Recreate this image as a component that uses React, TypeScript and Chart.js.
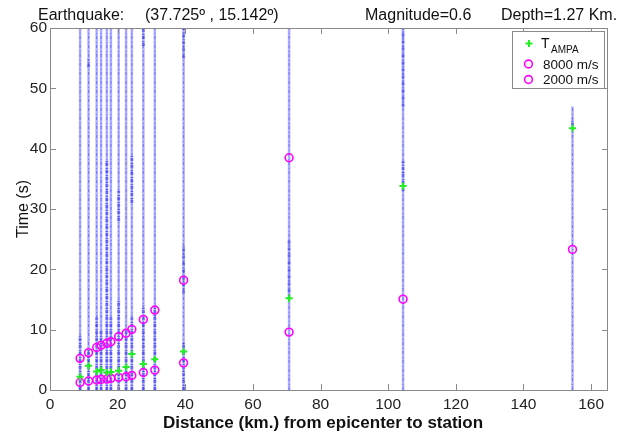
import React, { useEffect, useRef } from "react";
import { Chart, registerables } from "chart.js";

Chart.register(...registerables);

// Station epicentral distances (km) and trace extents (s)
const stationDist = [8.9, 11.4, 13.8, 15.1, 16.8, 18.0, 20.3, 22.5, 24.2, 27.6, 31.0, 39.5, 70.7, 104.4, 154.5];
const traceTop = [60, 60, 60, 60, 60, 60, 60, 60, 60, 60, 60, 60, 60, 60, 47];

// Picks (s)
const tAmpa = [2.2, 4.0, 3.05, 3.3, 2.9, 3.0, 3.2, 3.8, 5.95, 4.3, 5.1, 6.4, 15.2, 33.8, 43.4];
const arrival8000 = [1.25, 1.5, 1.65, 1.75, 1.8, 1.9, 2.1, 2.2, 2.4, 2.9, 3.3, 4.5, 9.6, 15.05, 23.3];
const arrival2000 = [5.25, 6.2, 7.05, 7.4, 7.75, 8.0, 8.85, 9.4, 10.05, 11.7, 13.25, 18.2, 38.5, null, null];

// Segments of high signal density on the traces
const burstDist = [8.9, 11.4, 11.4, 13.8, 15.1, 16.8, 18.0, 20.3, 20.3, 22.5, 24.2, 24.2, 27.6, 27.6, 31.0, 39.5, 39.5, 39.5, 70.7, 104.4, 104.4, 154.5];
const burstFrom = [0, 0, 53.5, 0, 0, 0, 0, 0, 28, 0, 0, 31, 0, 57, 0, 0, 16, 55, 15, 47, 33, 43.8];
const burstTo = [9, 7, 54.8, 12, 10, 38, 12, 15, 33, 10, 12, 39, 14, 60, 14, 8, 24, 60, 25, 60, 38, 45];

const xTicks = [0, 20, 40, 60, 80, 100, 120, 140, 160];
const yTicks = [0, 10, 20, 30, 40, 50, 60];

const FONT = "'Liberation Sans', Arial, sans-serif";

export default function App() {
  const ref = useRef<HTMLCanvasElement>(null);

  useEffect(() => {
    document.body.style.margin = "0";
    const canvas = ref.current;
    if (!canvas) return;

    const datasets: any[] = [];

    datasets.push({
      label: "TAMPA",
      data: stationDist.map((d, i) => ({ x: d, y: tAmpa[i] })),
      showLine: false,
      pointStyle: "cross",
      pointRadius: 3.6,
      borderColor: "#22ee22",
      backgroundColor: "#22ee22",
      pointBorderWidth: 2,
      order: 0,
    });
    datasets.push({
      label: "8000 m/s",
      data: stationDist.map((d, i) => ({ x: d, y: arrival8000[i] })),
      showLine: false,
      pointStyle: "circle",
      pointRadius: 3.9,
      borderColor: "#ff00ff",
      backgroundColor: "rgba(0,0,0,0)",
      pointBorderWidth: 1.6,
      order: 0,
    });
    datasets.push({
      label: "2000 m/s",
      data: stationDist
        .map((d, i) => ({ x: d, y: arrival2000[i] }))
        .filter((p) => p.y !== null),
      showLine: false,
      pointStyle: "circle",
      pointRadius: 3.9,
      borderColor: "#ff00ff",
      backgroundColor: "rgba(0,0,0,0)",
      pointBorderWidth: 1.6,
      order: 0,
    });

    stationDist.forEach((d, i) => {
      datasets.push({
        label: "trace-base",
        data: [
          { x: d, y: 0 },
          { x: d, y: traceTop[i] },
        ],
        showLine: true,
        pointRadius: 0,
        borderColor: "rgba(60,60,255,0.42)",
        borderWidth: 2.5,
        order: 2,
      });
      datasets.push({
        label: "trace-dots",
        data: [
          { x: d, y: 0 },
          { x: d, y: traceTop[i] },
        ],
        showLine: true,
        pointRadius: 0,
        borderColor: "rgba(0,0,240,0.4)",
        borderWidth: 1,
        borderDash: [3, 2, 1, 3],
        order: 2,
      });
    });

    burstDist.forEach((d, i) => {
      datasets.push({
        label: "burst",
        data: [
          { x: d, y: burstFrom[i] },
          { x: d, y: burstTo[i] },
        ],
        showLine: true,
        pointRadius: 0,
        borderColor: "rgba(0,0,230,0.38)",
        borderWidth: 3,
        borderDash: [3, 1, 1, 2],
        order: 1,
      });
    });

    const framePlugin = {
      id: "frame",
      afterDraw(chart: any) {
        const ctx = chart.ctx;
        const a = chart.chartArea;
        const xs = chart.scales.x;
        const ys = chart.scales.y;
        ctx.save();
        // frame
        ctx.strokeStyle = "#8a8a8a";
        ctx.lineWidth = 1;
        ctx.strokeRect(a.left + 0.5, a.top + 0.5, a.right - a.left - 1, a.bottom - a.top);
        // inward ticks
        const tl = 6;
        ctx.beginPath();
        xTicks.forEach((v) => {
          const px = Math.round(xs.getPixelForValue(v)) + 0.5;
          ctx.moveTo(px, a.bottom);
          ctx.lineTo(px, a.bottom - tl);
          ctx.moveTo(px, a.top);
          ctx.lineTo(px, a.top + tl);
        });
        yTicks.forEach((v) => {
          const py = Math.round(ys.getPixelForValue(v)) + 0.5;
          ctx.moveTo(a.left, py);
          ctx.lineTo(a.left + tl, py);
          ctx.moveTo(a.right, py);
          ctx.lineTo(a.right - tl, py);
        });
        ctx.stroke();

        // top title
        ctx.fillStyle = "#111";
        ctx.font = `16px ${FONT}`;
        ctx.textBaseline = "alphabetic";
        ctx.textAlign = "left";
        ctx.fillText("Earthquake:", 38, 20);
        ctx.fillText("(37.725º , 15.142º)", 145, 20);
        ctx.fillText("Magnitude=0.6", 365, 20);
        ctx.fillText("Depth=1.27 Km.", 501, 20);

        // axis titles
        ctx.font = `bold 17px ${FONT}`;
        ctx.textAlign = "center";
        ctx.fillText("Distance (km.) from epicenter to station", 323, 428);

        ctx.save();
        ctx.translate(28, (a.top + a.bottom) / 2);
        ctx.rotate(-Math.PI / 2);
        ctx.font = `16px ${FONT}`;
        ctx.textAlign = "center";
        ctx.textBaseline = "alphabetic";
        ctx.fillText("Time (s)", 0, 0);
        ctx.restore();

        // legend
        ctx.fillStyle = "#ffffff";
        ctx.fillRect(512.5, 31.5, 92, 57);
        ctx.strokeStyle = "#8a8a8a";
        ctx.strokeRect(512.5, 31.5, 92, 57);

        ctx.strokeStyle = "#22ee22";
        ctx.lineWidth = 2;
        ctx.beginPath();
        ctx.moveTo(525.5, 43.5);
        ctx.lineTo(532.5, 43.5);
        ctx.moveTo(529, 40);
        ctx.lineTo(529, 47);
        ctx.stroke();

        ctx.strokeStyle = "#ff00ff";
        ctx.lineWidth = 1.6;
        ctx.beginPath();
        ctx.arc(528.5, 64, 3.9, 0, Math.PI * 2);
        ctx.stroke();
        ctx.beginPath();
        ctx.arc(528.5, 79.5, 3.9, 0, Math.PI * 2);
        ctx.stroke();

        ctx.fillStyle = "#111";
        ctx.textAlign = "left";
        ctx.textBaseline = "alphabetic";
        ctx.font = `14px ${FONT}`;
        ctx.fillText("T", 541, 48);
        ctx.font = `10px ${FONT}`;
        ctx.fillText("AMPA", 551, 53);
        ctx.font = `13.5px ${FONT}`;
        ctx.fillText("8000 m/s", 543, 68.5);
        ctx.fillText("2000 m/s", 543, 84);
        ctx.restore();
      },
    };

    const chart = new Chart(canvas, {
      type: "scatter",
      data: { datasets },
      options: {
        animation: false,
        responsive: false,
        maintainAspectRatio: false,
        layout: { padding: { top: 28, right: 22, left: 0, bottom: 0 } },
        plugins: {
          legend: { display: false },
          tooltip: { enabled: false },
          title: { display: false },
        },
        elements: { line: { tension: 0 } },
        scales: {
          x: {
            type: "linear",
            min: 0,
            max: 165,
            grid: { display: false, drawTicks: false },
            border: { display: false },
            ticks: {
              padding: 5,
              color: "#222",
              font: { family: FONT, size: 15.5 },
              maxRotation: 0,
            },
            afterBuildTicks: (s: any) => {
              s.ticks = xTicks.map((v) => ({ value: v }));
            },
            afterFit: (s: any) => {
              s.height = 44;
            },
          },
          y: {
            type: "linear",
            min: 0,
            max: 60,
            grid: { display: false, drawTicks: false },
            border: { display: false },
            ticks: {
              padding: 3,
              color: "#222",
              font: { family: FONT, size: 15.5 },
            },
            afterBuildTicks: (s: any) => {
              s.ticks = yTicks.map((v) => ({ value: v }));
            },
            afterFit: (s: any) => {
              s.width = 50;
            },
          },
        },
      },
      plugins: [framePlugin],
    } as any);

    return () => chart.destroy();
  }, []);

  return (
    <div style={{ width: 630, height: 434, background: "#fff" }}>
      <canvas ref={ref} width={630} height={434} style={{ display: "block" }} />
    </div>
  );
}
